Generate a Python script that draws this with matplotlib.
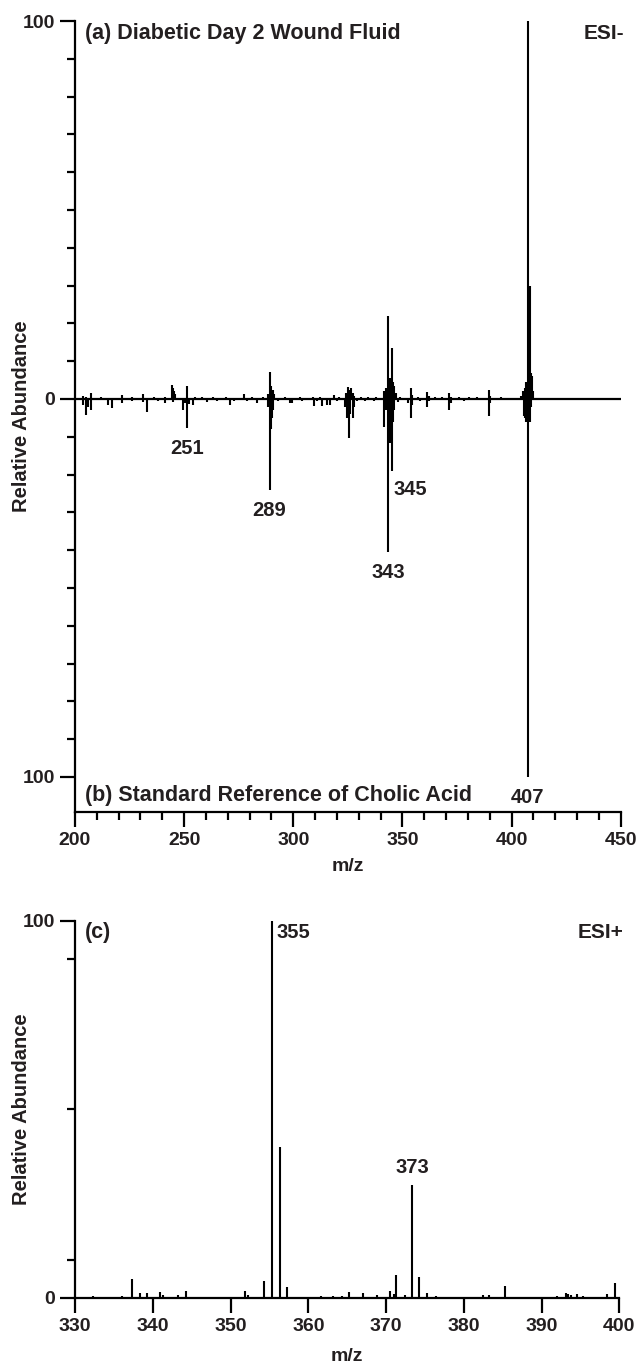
import matplotlib
matplotlib.use("Agg")
import matplotlib.pyplot as plt
from matplotlib.ticker import FixedLocator, FuncFormatter

plt.rcParams['font.family'] = ['Liberation Sans', 'DejaVu Sans']
plt.rcParams['font.weight'] = 'bold'

ink = '#231f20'

# (a) diabetic day 2 wound fluid, ESI- (plotted upward)
wound_mz = [203.5, 205.2, 207.2, 212.0, 221.4, 226.0, 231.3, 236.0, 241.0, 244.3,
            244.8, 245.3, 245.8, 251.2, 255.0, 258.0, 263.0, 269.0, 277.2, 281.0,
            286.0, 288.2, 289.1, 289.6, 290.6, 291.2, 296.0, 303.0, 309.0, 312.0,
            318.5, 321.0, 324.0, 324.9, 325.5, 326.1, 326.6, 327.3, 328.0, 331.0,
            334.0, 338.0, 341.5, 342.4, 343.3, 343.8, 344.3, 344.8, 345.3, 345.8,
            346.3, 347.0, 349.0, 353.7, 354.3, 357.0, 361.3, 362.0, 365.0, 368.0,
            371.5, 372.0, 376.0, 380.3, 384.0, 389.5, 390.2, 395.0, 400.0, 404.2,
            405.4, 406.3, 406.8, 407.3, 407.8, 408.3, 408.8, 409.3, 409.8]
wound_int = [0.8, 0.6, 1.5, 0.5, 1.0, 0.4, 1.4, 0.5, 0.4, 3.7,
             3.0, 2.0, 1.2, 3.5, 0.6, 0.4, 0.5, 0.4, 1.4, 0.5,
             0.4, 1.2, 7.2, 3.5, 2.4, 1.2, 0.5, 0.4, 0.6, 0.5,
             1.0, 0.6, 1.5, 3.2, 2.4, 2.0, 2.8, 1.5, 0.7, 0.5,
             0.4, 0.5, 2.0, 3.0, 22.0, 5.0, 5.5, 4.5, 13.5, 4.5,
             3.5, 1.5, 0.5, 2.8, 1.0, 0.4, 1.8, 0.8, 0.4, 0.4,
             1.5, 0.6, 0.5, 0.5, 0.4, 2.3, 0.8, 0.4, 0.3, 0.8,
             2.0, 3.0, 4.5, 100.0, 8.0, 30.0, 7.0, 6.0, 2.0]

# (b) cholic acid standard, ESI- (plotted downward)
std_mz = [203.8, 205.0, 206.0, 207.2, 215.0, 216.8, 221.4, 226.0, 231.3, 233.1,
          238.0, 241.3, 244.8, 249.4, 250.3, 251.2, 252.0, 254.2, 260.4, 265.0,
          271.0, 273.0, 279.0, 283.3, 288.5, 289.1, 289.6, 290.1, 290.6, 293.0,
          298.6, 299.4, 304.0, 309.3, 311.0, 313.1, 315.4, 316.6, 320.0, 323.9,
          324.8, 325.5, 326.1, 327.2, 327.7, 329.0, 333.0, 337.0, 341.5, 342.3,
          343.3, 343.8, 344.3, 344.8, 345.3, 345.8, 346.3, 348.0, 352.5, 353.7,
          354.3, 358.0, 361.3, 362.0, 366.0, 371.5, 372.1, 378.0, 384.0, 389.5,
          390.1, 396.0, 405.5, 406.3, 406.8, 407.3, 407.8, 408.3, 408.8]
std_int = [1.6, 4.2, 2.0, 3.0, 1.5, 2.4, 1.0, 0.5, 0.8, 3.4,
           0.5, 1.0, 0.8, 3.0, 1.0, 7.7, 1.2, 1.5, 0.8, 0.6,
           1.5, 0.6, 0.5, 1.0, 2.0, 24.0, 8.0, 5.0, 3.0, 0.5,
           1.0, 1.0, 0.5, 1.8, 0.5, 1.8, 1.5, 1.5, 0.6, 2.0,
           5.0, 10.4, 4.0, 5.0, 2.0, 0.6, 0.5, 0.5, 7.3, 3.0,
           40.5, 11.6, 11.6, 8.0, 19.0, 6.0, 3.0, 0.8, 1.0, 5.0,
           1.5, 0.6, 2.0, 0.5, 0.4, 3.0, 1.0, 0.5, 0.4, 4.5,
           1.0, 0.4, 4.5, 5.0, 6.0, 100.0, 6.0, 6.0, 2.0]

# (c) ESI+ spectrum
pos_mz = [332.3, 336.0, 337.3, 338.4, 339.2, 340.9, 341.3, 343.3, 344.3, 351.8,
          352.2, 354.3, 355.3, 356.3, 357.3, 361.7, 363.2, 364.3, 365.3, 367.1,
          368.8, 370.5, 371.0, 371.3, 372.4, 373.4, 374.3, 375.3, 376.4, 382.5,
          383.3, 385.3, 392.0, 393.1, 393.4, 393.8, 394.5, 395.3, 398.4, 399.5]
pos_int = [0.6, 0.6, 4.9, 1.4, 1.2, 1.6, 0.8, 0.8, 1.9, 1.9,
           0.8, 4.4, 100.0, 40.0, 3.0, 0.5, 0.5, 0.5, 1.6, 1.2,
           0.8, 1.9, 1.0, 6.2, 0.8, 30.0, 5.6, 1.3, 0.6, 0.8,
           0.8, 3.1, 0.6, 1.3, 1.0, 0.8, 1.0, 0.6, 1.1, 3.9]

top_peaks = [251, 289, 343, 345, 407]
pos_peaks = [355, 373]


def strongest(mzs, ints, target):
    # tallest line within half a unit of the nominal mass
    best = max((i for i, m in enumerate(mzs) if abs(m - target - 0.3) <= 0.45),
               key=lambda i: ints[i])
    return mzs[best], ints[best]


def style_axis(ax):
    for s in ['top', 'right']:
        ax.spines[s].set_visible(False)
    for s in ['left', 'bottom']:
        ax.spines[s].set_linewidth(1.6)
        ax.spines[s].set_color('black')
    ax.tick_params(which='major', direction='out', length=10.5, width=1.6,
                   labelsize=14, colors='black', labelcolor=ink, pad=4)
    ax.tick_params(which='minor', direction='out', length=5.5, width=1.6, colors='black')
    for lab in ax.get_xticklabels() + ax.get_yticklabels():
        lab.set_fontweight('bold')


fig = plt.figure(figsize=(6.42, 13.68), dpi=100)

# ---- panels (a)/(b): mirrored spectra ----
ax1 = fig.add_axes([0.1168, 0.4064, 0.967 - 0.1168, 0.9846 - 0.4064])
ax1.vlines(wound_mz, 0, wound_int, color='black', lw=1.5)
ax1.vlines(std_mz, 0, [-v for v in std_int], color='black', lw=1.5)
ax1.axhline(0, color='black', lw=1.6)
ax1.set_xlim(200, 450)
ax1.set_ylim(-109.3, 100)
ax1.xaxis.set_major_locator(FixedLocator(range(200, 451, 50)))
ax1.xaxis.set_minor_locator(FixedLocator(range(200, 451, 10)))
ax1.yaxis.set_major_locator(FixedLocator([-100, 0, 100]))
ax1.yaxis.set_minor_locator(FixedLocator(range(-100, 101, 10)))
ax1.yaxis.set_major_formatter(FuncFormatter(lambda v, p: '%d' % abs(v)))
style_axis(ax1)
ax1.set_xlabel('m/z', fontsize=14, fontweight='bold', color=ink, labelpad=6)

ax1.text(204.6, 96.8, '(a) Diabetic Day 2 Wound Fluid', fontsize=15.5,
         fontweight='bold', color=ink, va='center', ha='left')
ax1.text(204.6, -104.8, '(b) Standard Reference of Cholic Acid', fontsize=15.5,
         fontweight='bold', color=ink, va='center', ha='left')
ax1.text(1.006, 96.8, 'ESI-', transform=ax1.get_yaxis_transform(), fontsize=15,
         fontweight='bold', color=ink, va='center', ha='right')

for pk in top_peaks:
    mz, depth = strongest(std_mz, std_int, pk)
    if pk == 345:
        ax1.text(mz + 0.6, -depth - 5, str(pk), fontsize=14.5, fontweight='bold',
                 color=ink, ha='left', va='center')
    else:
        ax1.text(mz, -depth - 5.5, str(pk), fontsize=14.5, fontweight='bold',
                 color=ink, ha='center', va='center')

# ---- panel (c): ESI+ ----
ax2 = fig.add_axes([0.1168, 0.0512, 0.9647 - 0.1168, 0.3268 - 0.0512])
ax2.vlines(pos_mz, 0, pos_int, color='black', lw=1.5)
ax2.set_xlim(330, 400)
ax2.set_ylim(0, 100)
ax2.xaxis.set_major_locator(FixedLocator(range(330, 401, 10)))
ax2.yaxis.set_major_locator(FixedLocator([0, 100]))
ax2.yaxis.set_minor_locator(FixedLocator([10, 50, 90]))
style_axis(ax2)
ax2.set_xlabel('m/z', fontsize=14, fontweight='bold', color=ink, labelpad=9)

ax2.text(331.3, 97, '(c)', fontsize=15.5, fontweight='bold', color=ink,
         va='center', ha='left')
ax2.text(1.008, 97, 'ESI+', transform=ax2.get_yaxis_transform(), fontsize=15,
         fontweight='bold', color=ink, va='center', ha='right')

for pk in pos_peaks:
    mz, h = strongest(pos_mz, pos_int, pk)
    if h >= 99:
        ax2.text(mz + 0.6, h - 3, str(pk), fontsize=14.5, fontweight='bold',
                 color=ink, ha='left', va='center')
    else:
        ax2.text(mz, h + 4.5, str(pk), fontsize=14.5, fontweight='bold',
                 color=ink, ha='center', va='center')

# y labels sit in the left margin, centred on each axes
for ax in (ax1, ax2):
    box = ax.get_position()
    fig.text(22 / 642, (box.y0 + box.y1) / 2, 'Relative Abundance', rotation=90,
             fontsize=14.5, fontweight='bold', color=ink, ha='center', va='center')

fig.savefig('out.png', dpi=100, facecolor='white')
